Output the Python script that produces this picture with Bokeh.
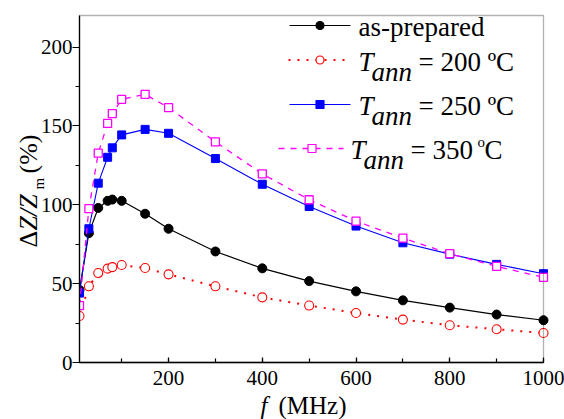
import math

from bokeh.embed import file_html
from bokeh.models import BoxAnnotation, Label, LinearAxis, Range1d, SingleIntervalTicker
from bokeh.plotting import figure
from bokeh.resources import INLINE

# --- data: GMI ratio vs frequency for the ribbons ---
freq = [10, 30, 50, 70, 80, 100, 150, 200, 300, 400, 500, 600, 700, 800, 900, 1000]
as_prepared = [46, 82, 98, 102.5, 103.3, 102.5, 94.3, 84.8, 70.4, 59.7, 51.6, 45.1, 39.4, 34.8, 30.4, 26.8]
t_ann_200 = [29.5, 48.3, 56.7, 59.5, 60.5, 61.8, 59.9, 55.9, 48.3, 41.3, 36.1, 31.4, 27.2, 23.6, 21.1, 18.7]
t_ann_250 = [44, 84.8, 113.7, 130.1, 136.1, 144.3, 147.8, 145.3, 129.3, 113.0, 98.9, 86.5, 75.9, 68.7, 62.2, 56.3]
t_ann_350 = [36, 97.5, 132.7, 151.6, 157.8, 166.8, 170.0, 161.6, 139.9, 119.6, 103.2, 89.6, 78.9, 69.0, 60.9, 54.0]

# --- page layout (pixels) ---
W, H = 564, 419
L, R, T, B = 79, 543, 15, 362    # edges of the axes box on the page
X0, X1 = 10, 1000
Y0, Y1 = 0, 220
SERIF = "Times New Roman"
BASE = 0.33                      # label anchor offset, as a fraction of the font size


def dx(px):
    return X0 + (px - L) / (R - L) * (X1 - X0)


def dy(py):
    return Y0 + (B - py) / (B - T) * (Y1 - Y0)


# the frame fills the whole page; the axes sit at fixed data locations
p = figure(width=W, height=H, output_backend="svg", toolbar_location=None,
           x_range=Range1d(dx(0), dx(W)), y_range=Range1d(dy(H), dy(0)),
           x_axis_type=None, y_axis_type=None, min_border=0)
p.background_fill_color = "white"
p.border_fill_color = "white"
p.outline_line_color = None
p.xgrid.visible = False
p.ygrid.visible = False

xa = LinearAxis(fixed_location=Y0, bounds=(X0, X1),
                ticker=SingleIntervalTicker(interval=200, num_minor_ticks=2))
ya = LinearAxis(fixed_location=X0, bounds=(Y0, Y1),
                ticker=SingleIntervalTicker(interval=50, num_minor_ticks=2))
for ax in (xa, ya):
    ax.axis_line_color = "black"
    ax.axis_line_width = 1.3
    ax.major_tick_line_color = "black"
    ax.minor_tick_line_color = "black"
    ax.major_tick_line_width = 1.2
    ax.minor_tick_line_width = 1.2
    ax.major_label_text_font = SERIF
    ax.major_label_text_font_size = "21px"
    ax.major_label_text_color = "black"
xa.major_tick_in, xa.major_tick_out = 5, 0
xa.minor_tick_in, xa.minor_tick_out = 4, 0
xa.major_label_standoff = 8
ya.major_tick_in, ya.major_tick_out = 0, 7
ya.minor_tick_in, ya.minor_tick_out = 0, 4
ya.major_label_standoff = 0
p.add_layout(xa, "below")
p.add_layout(ya, "left")

# --- series ---
p.line(freq, as_prepared, line_color="black", line_width=1.2)
p.scatter(freq, as_prepared, marker="circle", size=9, fill_color="black", line_color="black")

p.line(freq, t_ann_200, line_color="red", line_width=2, line_dash="2 7")
p.scatter(freq, t_ann_200, marker="circle", size=9, fill_color="white", line_color="red", line_width=1.1)

p.line(freq, t_ann_250, line_color="blue", line_width=1.1)
p.scatter(freq, t_ann_250, marker="square", size=8, fill_color="blue", line_color="blue")

p.line(freq, t_ann_350, line_color="magenta", line_width=1.3, line_dash="6 6")
p.scatter(freq, t_ann_350, marker="square", size=8, fill_color="white", line_color="magenta", line_width=1.3)

# hide marker halves that fall left of the y axis (drawn before the axes)
p.add_layout(BoxAnnotation(right=X0, fill_color="white", fill_alpha=1,
                           line_alpha=0, level="glyph"))

# top and right edges of the axes box
p.add_layout(BoxAnnotation(left=X0, right=X1, bottom=Y0, top=Y1, fill_alpha=0,
                           line_color="black", line_width=1.3))


def label(px, py, s, size, style="normal", vertical=False):
    """Place text with its baseline at page pixel (px, py)."""
    if vertical:
        px, angle = px - BASE * size, math.pi / 2
    else:
        py, angle = py - BASE * size, 0.0
    p.add_layout(Label(x=dx(px), y=dy(py), text=s, text_font=SERIF,
                       text_font_size=f"{size}px", text_font_style=style,
                       text_color="black", text_baseline="alphabetic",
                       text_align="left", angle=angle))


# --- legend (drawn by hand for the subscripted labels) ---
def swatch(x_a, x_b, x_m, y, color, width, dash, marker, fill):
    p.line([dx(x_a), dx(x_b)], [dy(y), dy(y)], line_color=color, line_width=width, line_dash=dash)
    p.scatter([dx(x_m)], [dy(y)], marker=marker, size=8, fill_color=fill,
              line_color=color, line_width=1.2)


swatch(289, 350, 319.5, 25, "black", 1.2, "solid", "circle", "black")
swatch(288, 346, 319.5, 59.5, "red", 2, "2 7", "circle", "white")
swatch(289, 350, 319.5, 104, "blue", 1.1, "solid", "square", "blue")
swatch(278, 343, 311.5, 148, "magenta", 1.3, "6 6", "square", "white")

label(358, 35, "as-prepared", 27)

label(358, 70, "T", 27, "italic")
label(371, 80, "ann", 27, "italic")
label(418, 70, "= 200 ºC", 27)

label(358, 114, "T", 27, "italic")
label(371, 124, "ann", 27, "italic")
label(418, 114, "= 250 ºC", 27)

label(350, 158, "T", 27, "italic")
label(363, 168, "ann", 27, "italic")
label(410, 158, "= 350", 27)
label(477, 146, "o", 15)
label(484, 158, "C", 27)

# --- axis titles ---
label(37, 247, "Δ", 26, vertical=True)
label(37, 230, "Z/Z", 26, "italic", vertical=True)
label(43, 189, "m", 15, vertical=True)
label(37, 173, "(%)", 26, vertical=True)

label(260, 413, "f", 25, "italic")
label(278, 413, "(MHz)", 25)

open("out.html", "w").write(file_html(p, INLINE))
